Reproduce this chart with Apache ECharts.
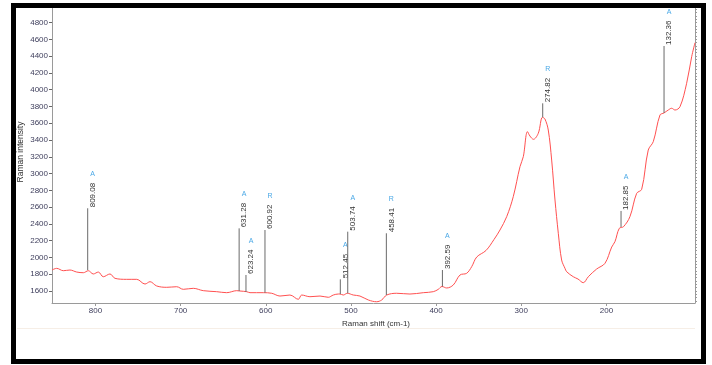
<!DOCTYPE html>
<html>
<head>
<meta charset="utf-8">
<script src="https://cdn.jsdelivr.net/npm/echarts@6/dist/echarts.min.js"></script>
<style>
html,body{margin:0;padding:0;background:#fff;}
#c{width:712px;height:365px;}
</style>
</head>
<body>
<div id="c"></div>
<script>
// Raman spectrum (x = Raman shift cm-1, y = intensity)
const specX = [851, 845.5, 837.7, 829.9, 822, 814.2, 808.4, 802.5, 796.6, 790.8, 782.9, 777, 763.3, 751.5, 741.8, 735.9, 728.1, 716.3, 704.6, 696.8, 685.1, 673.4, 657.6, 645.9, 634.1, 630.3, 622.4, 618.5, 602.9, 593, 583.3, 571.6, 561.8, 557.8, 548.1, 536.3, 526.6, 520.7, 514.8, 512.9, 509, 504.3, 497.2, 489.4, 479.6, 469.8, 463.9, 458, 446.3, 430.7, 415, 403.3, 397.4, 393.1, 387.6, 379.8, 371.9, 364.1, 358.2, 352.3, 341.4, 332, 325, 317.1, 309.4, 301.5, 297.6, 292.7, 289.8, 285.7, 280, 275.1, 272.2, 268.3, 264.3, 260.4, 256.5, 252.6, 248.7, 246.7, 238.9, 233.4, 227.2, 221.3, 211.5, 201.7, 193.8, 190, 184.9, 180, 172.4, 164.5, 158.6, 150.9, 145, 137.1, 132.4, 127.4, 123.4, 119.5, 113.6, 105.8, 99.9, 96];
const specY = [1850, 1870, 1842, 1850, 1826, 1818, 1842, 1803, 1826, 1770, 1803, 1751, 1739, 1739, 1683, 1711, 1660, 1644, 1651, 1620, 1632, 1604, 1592, 1580, 1604, 1600, 1592, 1580, 1580, 1573, 1540, 1552, 1501, 1552, 1532, 1540, 1525, 1552, 1564, 1564, 1552, 1573, 1552, 1540, 1493, 1472, 1493, 1552, 1573, 1564, 1580, 1592, 1620, 1654, 1636, 1672, 1791, 1811, 1890, 2005, 2083, 2214, 2327, 2486, 2724, 3082, 3201, 3499, 3447, 3408, 3480, 3670, 3650, 3519, 3161, 2685, 2288, 1969, 1871, 1830, 1770, 1743, 1699, 1770, 1862, 1930, 2124, 2188, 2347, 2366, 2486, 2764, 2812, 3280, 3380, 3698, 3722, 3757, 3778, 3757, 3797, 4076, 4393, 4559];

// Peak markers
const peakX = [809.08, 631.28, 623.24, 600.92, 512.45, 503.74, 458.41, 392.59, 274.82, 182.85, 132.36];
const peakLabels = ['809.08', '631.28', '623.24', '600.92', '512.45', '503.74', '458.41', '392.59', '274.82', '182.85', '132.36'];
const peakBottom = [1850, 1600, 1588, 1580, 1564, 1573, 1552, 1654, 3670, 2363, 3722];
const peakTop = [2586, 2347, 1791, 2327, 1739, 2307, 2288, 1850, 3837, 2554, 4520];
const peakPhase = ['A', 'A', 'A', 'R', 'A', 'A', 'R', 'A', 'R', 'A', 'A'];

// Axis ticks
const xLabelValues = [200, 300, 400, 500, 600, 700, 800];
const yLabelValues = [1600, 1800, 2000, 2200, 2400, 2600, 2800, 3000, 3200, 3400, 3600, 3800, 4000, 4200, 4400, 4600, 4800, 5000];
const xMinorValues = [];
for (let v = 100; v <= 840; v += 20) xMinorValues.push(v);
const yMinorValues = [];
for (let v = 1480; v <= 5000; v += 40) yMinorValues.push(v);

const X_MIN = 96, X_MAX = 851, Y_MIN = 1457, Y_MAX = 5000;

const chart = echarts.init(document.getElementById('c'), null, {renderer: 'canvas'});

const lineData = specX.map((x, i) => [x, specY[i]]);
const peakData = peakX.map((x, i) => [x, peakBottom[i], peakTop[i], i]);

const labelColor = '#3e3e5c';
const axisColor = '#9a9a9a';
const FONT = 'Liberation Sans, Arial, sans-serif';
const plain = v => String(v);

function xAxisBase(extra) {
  return Object.assign({
    type: 'value', inverse: true, min: X_MIN, max: X_MAX,
    splitLine: {show: false},
    axisLine: {show: true, onZero: false, lineStyle: {color: axisColor, width: 1}},
  }, extra);
}
function yAxisBase(extra) {
  return Object.assign({
    type: 'value', min: Y_MIN, max: Y_MAX,
    splitLine: {show: false},
    axisLine: {show: true, onZero: false, lineStyle: {color: axisColor, width: 1}},
  }, extra);
}

const option = {
  animation: false,
  backgroundColor: '#ffffff',
  grid: {left: 52, right: 17, top: 5.74, bottom: 62, containLabel: false},
  xAxis: [
    xAxisBase({
      axisTick: {show: true, length: 3, customValues: xLabelValues, lineStyle: {color: axisColor}},
      axisLabel: {show: true, customValues: xLabelValues, formatter: plain, color: labelColor, fontSize: 8, fontFamily: FONT, margin: 4}
    }),
    xAxisBase({
      axisTick: {show: true, length: 2, customValues: xMinorValues, lineStyle: {color: axisColor}},
      axisLabel: {show: false}
    })
  ],
  yAxis: [
    yAxisBase({
      axisTick: {show: true, length: 3, customValues: yLabelValues, lineStyle: {color: '#666'}},
      axisLabel: {show: true, customValues: yLabelValues, formatter: plain, color: labelColor, fontSize: 8, fontFamily: FONT, margin: 4}
    }),
    yAxisBase({
      axisTick: {show: true, length: 2, customValues: yMinorValues, lineStyle: {color: axisColor}},
      axisLabel: {show: false}
    })
  ],
  series: [
    {
      type: 'line', xAxisIndex: 0, yAxisIndex: 0,
      data: lineData, showSymbol: false, smooth: 0.35,
      lineStyle: {color: '#ff5050', width: 1}, z: 3
    },
    {
      type: 'custom', xAxisIndex: 0, yAxisIndex: 0, clip: false, z: 4,
      data: peakData,
      renderItem: function (params, api) {
        const x = api.value(0);
        const b = api.coord([x, api.value(1)]);
        const t = api.coord([x, api.value(2)]);
        const i = api.value(3);
        return {
          type: 'group',
          children: [
            {type: 'line', shape: {x1: b[0], y1: b[1], x2: t[0], y2: t[1]},
             style: {stroke: '#6a6a6a', lineWidth: 1}},
            {type: 'text', x: t[0] + 5, y: t[1] - 1, rotation: Math.PI / 2,
             style: {text: peakLabels[i], fill: '#333', font: '8px ' + FONT,
                     align: 'left', verticalAlign: 'middle'}},
            {type: 'text', x: t[0] + 5, y: t[1] - 34,
             style: {text: peakPhase[i], fill: '#4aa8e6', font: '7px ' + FONT,
                     align: 'center', verticalAlign: 'middle'}}
          ]
        };
      }
    }
  ],
  graphic: [
    {type: 'text', x: 376, y: 324,
     style: {text: 'Raman shift (cm-1)', fill: '#333', font: '8px ' + FONT, align: 'center', verticalAlign: 'middle'}},
    {type: 'text', x: 21, y: 152, rotation: Math.PI / 2,
     style: {text: 'Raman intensity', fill: '#333', font: '8.5px ' + FONT, align: 'center', verticalAlign: 'middle'}},
    {type: 'line', shape: {x1: 17, y1: 328.5, x2: 695, y2: 328.5}, style: {stroke: '#f6eee6', lineWidth: 1}},
    {type: 'rect', z: 100, shape: {x: 13.5, y: 5.5, width: 690, height: 356},
     style: {fill: 'none', stroke: '#000', lineWidth: 5}}
  ]
};
chart.setOption(option);
</script>
</body>
</html>
